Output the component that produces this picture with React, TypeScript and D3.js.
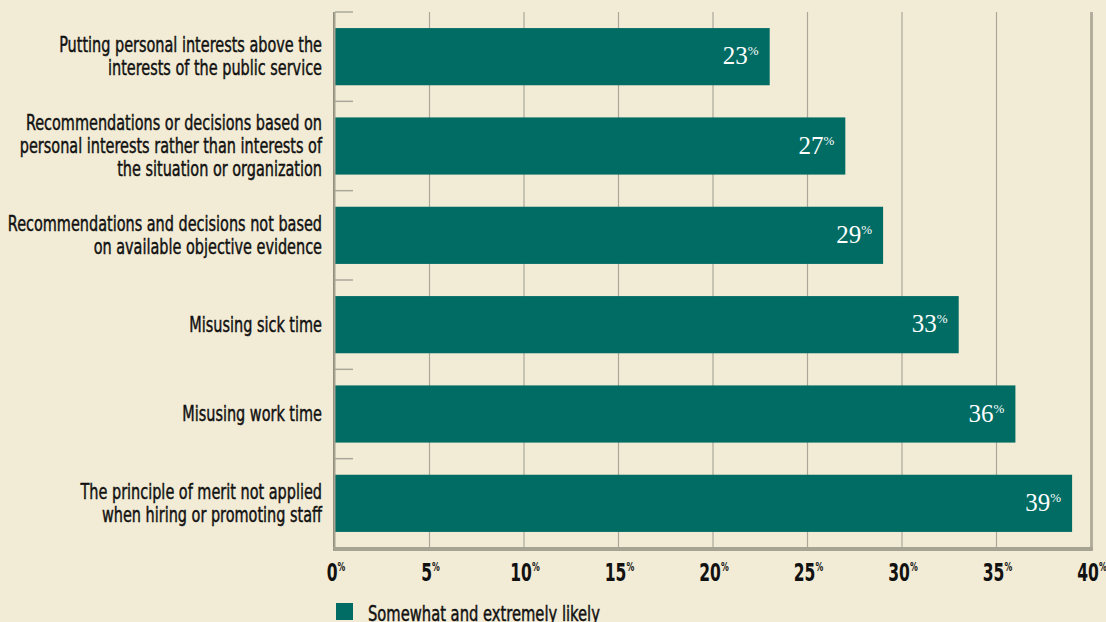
import React from "react";
import * as d3 from "d3";

const categories: string[][] = [
  ["Putting personal interests above the", "interests of the public service"],
  ["Recommendations or decisions based on", "personal interests rather than interests of", "the situation or organization"],
  ["Recommendations and decisions not based", "on available objective evidence"],
  ["Misusing sick time"],
  ["Misusing work time"],
  ["The principle of merit not applied", "when hiring or promoting staff"],
];
const values: number[] = [23, 27, 29, 33, 36, 39];
const xTicks: number[] = [0, 5, 10, 15, 20, 25, 30, 35, 40];
const legendLabel = "Somewhat and extremely likely";

const W = 1106;
const H = 622;
const BG = "#f2ebd5";
const BAR = "#006c63";
const GRID = "#aba89b";
const AXIS = "#a6a392";
const SHADOW = "#8f8c7c";
const COND = "'DejaVu Sans Condensed', 'Liberation Sans Narrow', sans-serif";
const SX_LABEL = 0.73;
const SX_TICK = 0.72;
const SX_LEGEND = 0.745;

export default function App() {
  const x = d3.scaleLinear().domain([0, 40]).range([335, 1091]);
  const ids = categories.map((_, i) => String(i));
  const y = d3.scaleBand<string>().domain(ids).range([12, 548]).paddingInner(0.36).paddingOuter(0.18);
  const step = y.step();
  const top = 12, bottom = 548;

  return (
    <svg width={W} height={H} style={{ position: "fixed", left: 0, top: 0, display: "block" }}>
      <rect x={0} y={0} width={W} height={H} fill={BG} />
      {/* gridlines */}
      {xTicks.slice(1, -1).map((t) => (
        <line key={"g" + t} x1={x(t)} x2={x(t)} y1={top} y2={bottom} stroke={GRID} strokeWidth={1.2} />
      ))}
      {/* category ticks */}
      {d3.range(0, categories.length).map((i) => (
        <line key={"ct" + i} x1={335} x2={353} y1={top + i * step} y2={top + i * step} stroke={GRID} strokeWidth={1.5} />
      ))}
      {/* bars */}
      {values.map((v, i) => (
        <rect key={"b" + i} x={x(0)} y={y(ids[i])!} width={x(v) - x(0)} height={y.bandwidth()} fill={BAR} />
      ))}
      {/* frame: left, bottom, right with shadow */}
      <line x1={x(0) - 1.5} x2={x(0) - 1.5} y1={top} y2={bottom + 2} stroke={SHADOW} strokeWidth={1} />
      <line x1={x(0) - 0.3} x2={x(0) - 0.3} y1={top} y2={bottom} stroke={AXIS} strokeWidth={1.6} />
      <line x1={x(40)} x2={x(40)} y1={top} y2={bottom} stroke={AXIS} strokeWidth={1.6} />
      <line x1={x(40) + 1.3} x2={x(40) + 1.3} y1={top} y2={bottom + 2} stroke={SHADOW} strokeWidth={0.8} />
      <line x1={x(0) - 2} x2={x(40) + 1.7} y1={bottom} y2={bottom} stroke={AXIS} strokeWidth={2} />
      <line x1={x(0) - 2} x2={x(40) + 1.7} y1={bottom + 2} y2={bottom + 2} stroke={SHADOW} strokeWidth={1.5} />
      {/* value labels */}
      {values.map((v, i) => (
        <text key={"v" + i} x={x(v) - 11} y={y(ids[i])! + y.bandwidth() / 2 + 7.5} textAnchor="end" fill="#ffffff"
          fontFamily="'Liberation Serif', 'DejaVu Serif', serif" fontSize={25}>
          {v}
          <tspan fontSize={13} dy={-9}>%</tspan>
        </text>
      ))}
      {/* x tick labels */}
      {xTicks.map((t) => (
        <g key={"xt" + t} transform={`translate(${x(t) + 1},581) scale(${SX_TICK},1)`}>
          <text x={0} y={0} textAnchor="middle" fontFamily={COND} fontSize={24} fontWeight="bold" fill="#111">
            {t}
            <tspan fontSize={12} dy={-10}>%</tspan>
          </text>
        </g>
      ))}
      {/* category labels */}
      {categories.map((lines, i) => {
        const cy = y(ids[i])! + y.bandwidth() / 2;
        const first = cy - ((lines.length - 1) * 23) / 2 + 7;
        return (
          <g key={"c" + i} transform={`translate(322,0) scale(${SX_LABEL},1)`}>
            <text textAnchor="end" fontFamily={COND} fontSize={22} fill="#111" stroke="#111" strokeWidth={0.45}>
              {lines.map((l, j) => (
                <tspan key={j} x={0} y={first + j * 23}>{l}</tspan>
              ))}
            </text>
          </g>
        );
      })}
      {/* legend */}
      <rect x={336} y={603} width={17} height={17} fill={BAR} />
      <g transform={`translate(368,621) scale(${SX_LEGEND},1)`}>
        <text x={0} y={0} fontFamily={COND} fontSize={22} fill="#111" stroke="#111" strokeWidth={0.45}>{legendLabel}</text>
      </g>
    </svg>
  );
}
